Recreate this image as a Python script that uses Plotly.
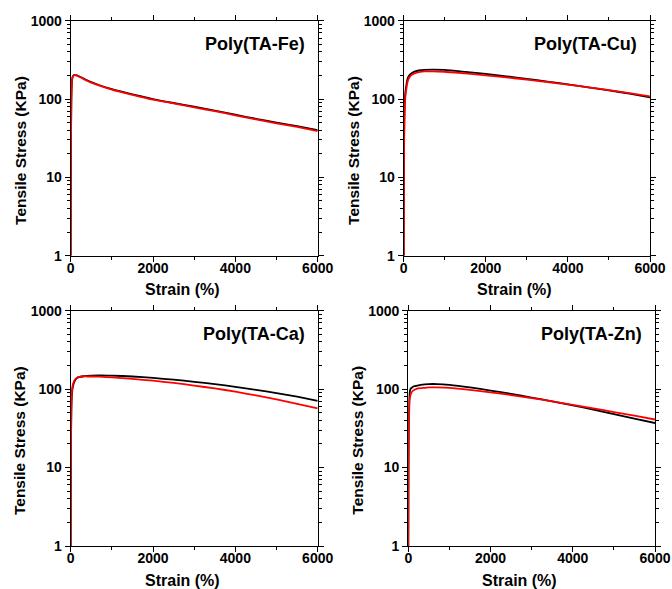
import plotly.graph_objects as go

# ---------------- data ----------------
strain = [0, 3, 8, 15, 25, 40, 60, 100, 150, 200, 300, 400, 500, 700, 1000,
          1500, 2000, 2500, 3000, 3500, 4000, 4500, 5000, 5500, 6000]

fe_black = [1, 5, 30, 90, 150, 185, 198, 203, 200, 195, 184, 173, 164, 150, 134,
            115, 100, 89, 80, 71, 63, 56, 50, 45, 40]
fe_red = [1, 5, 30, 90, 150, 185, 197, 202, 199, 194, 182, 171, 162, 148, 132,
          113, 98, 88, 78, 70, 62, 55, 49, 44, 39]

cu_black = [1, 6, 22, 55, 88, 120, 145, 185, 205, 215, 227, 233, 236, 238, 235,
            222, 209, 195, 181, 167, 154, 141, 129, 117, 105]
cu_red = [1, 5, 18, 45, 75, 105, 130, 170, 193, 204, 216, 222, 225, 226, 223,
          212, 201, 189, 177, 165, 153, 141, 130, 119, 108]

ca_black = [1, 5, 20, 50, 78, 98, 112, 128, 138, 142, 146, 148, 149, 150, 149,
            145, 139, 132, 124, 116, 107, 98, 89, 80, 71]
ca_red = [1, 5, 22, 55, 85, 105, 118, 132, 140, 143, 145, 145, 145, 144, 141,
          135, 128, 120, 111, 102, 93, 83, 74, 65, 57]

zn_black = [1, 5, 25, 55, 80, 95, 102, 106, 109, 110, 113, 115, 116, 116, 113,
            105, 96, 87, 78, 70, 62, 55, 48, 42, 37]
zn_red = [1, 4, 15, 35, 60, 78, 86, 94, 98, 101, 103, 104, 105, 105, 104,
          98, 91, 84, 77, 70, 63, 57, 51, 46, 41]

titles = ["Poly(TA-Fe)", "Poly(TA-Cu)", "Poly(TA-Ca)", "Poly(TA-Zn)"]
series = [(fe_black, fe_red), (cu_black, cu_red), (ca_black, ca_red), (zn_black, zn_red)]

x_ticks = [0, 2000, 4000, 6000]
y_ticks = [1, 10, 100, 1000]

# ---------------- layout geometry ----------------
W, H = 672, 589
# pixel boxes: (x0, x1, ytop, ybottom)
boxes = [(70.7, 317.7, 20.7, 255.7),
         (403.7, 650.0, 20.7, 255.7),
         (70.7, 317.7, 310.7, 546.0),
         (408.3, 655.0, 310.7, 546.0)]

FONT = "Liberation Sans, Arial, sans-serif"

fig = go.Figure()
layout = dict(width=W, height=H, autosize=False, margin=dict(l=0, r=0, t=0, b=0, pad=0),
              paper_bgcolor="white", plot_bgcolor="white", showlegend=False,
              font=dict(family=FONT, color="black"))
annotations = []

for i, ((x0, x1, yt, yb), (blk, red), title) in enumerate(zip(boxes, series, titles)):
    n = "" if i == 0 else str(i + 1)
    xa, ya = "x" + n, "y" + n
    for ys, col in ((blk, "black"), (red, "#ff0000")):
        fig.add_trace(go.Scatter(x=strain, y=ys, xaxis=xa, yaxis=ya, mode="lines",
                                 line=dict(color=col, width=1.8, shape="spline", smoothing=0.5),
                                 cliponaxis=True))
    common = dict(showline=True, linecolor="black", linewidth=1.2, mirror="allticks",
                  ticks="outside", ticklen=5, tickwidth=1.2, tickcolor="black",
                  showgrid=False, zeroline=False, automargin=False,
                  tickfont=dict(family=FONT, size=14, color="black", weight="bold"))
    layout["xaxis" + n] = dict(common, domain=[x0 / W, x1 / W], anchor=ya,
                               range=[0, 6000], tickvals=x_ticks,
                               ticktext=[str(v) for v in x_ticks],
                               ticklabelstandoff=-6,
                               minor=dict(dtick=1000, ticks="outside", ticklen=3,
                                          tickwidth=1, tickcolor="black"))
    layout["yaxis" + n] = dict(common, domain=[1 - yb / H, 1 - yt / H], anchor=xa,
                               type="log", range=[0, 3], tickvals=y_ticks,
                               ticktext=[str(v) for v in y_ticks],
                               minor=dict(dtick="D1", ticks="outside", ticklen=3,
                                          tickwidth=1, tickcolor="black"))
    # panel title
    annotations.append(dict(text="<b>" + title + "</b>", xref="paper", yref="paper",
                            x=(x1 - 11) / W, y=1 - (yt + 23) / H, xanchor="right",
                            yanchor="middle", showarrow=False,
                            font=dict(family=FONT, size=18, color="black")))
    # x axis title
    annotations.append(dict(text="<b>Strain (%)</b>", xref="paper", yref="paper",
                            x=(x0 + x1) / 2 / W - 12 / W, y=1 - (yb + 34) / H,
                            xanchor="center", yanchor="middle", showarrow=False,
                            font=dict(family=FONT, size=16, color="black")))
    # y axis title
    annotations.append(dict(text="<b>Tensile Stress (KPa)</b>", xref="paper", yref="paper",
                            x=(x0 - 51) / W, y=1 - ((yt + yb) / 2 + 12) / H,
                            xanchor="center", yanchor="middle", showarrow=False,
                            textangle=-90,
                            font=dict(family=FONT, size=15.5, color="black")))

layout["annotations"] = annotations
fig.update_layout(**layout)
fig.write_html("out.html")
